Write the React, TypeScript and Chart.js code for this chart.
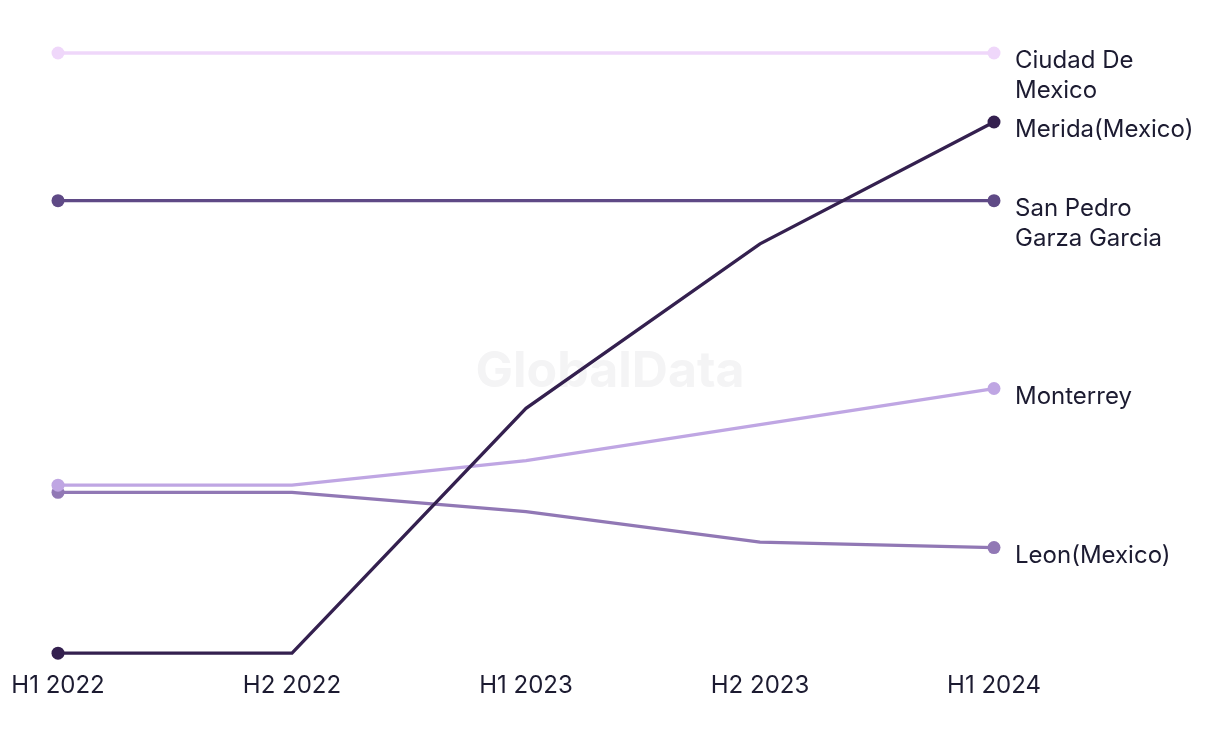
import React, { useEffect, useRef } from "react";
import { Chart, registerables } from "chart.js";

Chart.register(...registerables);

const categories = ["H1 2022", "H2 2022", "H1 2023", "H2 2023", "H1 2024"];
const seriesNames = [
  ["Ciudad De", "Mexico"],
  ["Merida(Mexico)"],
  ["San Pedro", "Garza Garcia"],
  ["Monterrey"],
  ["Leon(Mexico)"],
];
const ciudad = [100, 100, 100, 100, 100];
const merida = [0, 0, 40.8, 68.2, 88.5];
const sanPedro = [75.4, 75.4, 75.4, 75.4, 75.4];
const monterrey = [28.0, 28.0, 32.1, 38.1, 44.1];
const leon = [26.8, 26.8, 23.6, 18.5, 17.6];
const colors = ["#efd7fa", "#34204f", "#5f4a86", "#bfa6e3", "#9178b5"];

const FONT = "Inter, 'Noto Sans', sans-serif";
const TEXT = "#1c1b31";

const endLabels = {
  id: "endLabels",
  afterDatasetsDraw(chart: any) {
    const ctx = chart.ctx;
    ctx.save();
    ctx.font = `24px ${FONT}`;
    ctx.fillStyle = TEXT;
    ctx.textAlign = "left";
    ctx.textBaseline = "middle";
    chart.data.datasets.forEach((ds: any, i: number) => {
      const meta = chart.getDatasetMeta(i);
      const pt = meta.data[meta.data.length - 1];
      const lines = seriesNames[i];
      lines.forEach((l, k) => {
        ctx.fillText(l, pt.x + 21, pt.y + 8 + k * 30);
      });
    });
    ctx.restore();
  },
};

const watermark = {
  id: "watermark",
  beforeDatasetsDraw(chart: any) {
    const ctx = chart.ctx;
    ctx.save();
    ctx.font = `bold 50px ${FONT}`;
    ctx.fillStyle = "#f4f4f5";
    ctx.textAlign = "center";
    ctx.textBaseline = "middle";
    ctx.fillText("GlobalData", 610, 372);
    ctx.restore();
  },
};

export default function App() {
  const ref = useRef<HTMLCanvasElement | null>(null);
  useEffect(() => {
    if (!ref.current) return;
    const data = [ciudad, merida, sanPedro, monterrey, leon];
    const chart = new Chart(ref.current, {
      type: "line",
      data: {
        labels: categories,
        datasets: data.map((d, i) => ({
          label: seriesNames[i].join(" "),
          data: d,
          borderColor: colors[i],
          backgroundColor: colors[i],
          borderWidth: 3.3,
          pointRadius: d.map((_, j) => (j === 0 || j === d.length - 1 ? 6.5 : 0)),
          pointBorderWidth: 0,
          tension: 0,
          fill: false,
          clip: false as any,
        })),
      },
      options: {
        animation: false,
        responsive: false,
        maintainAspectRatio: false,
        layout: { padding: { left: 58, right: 226, top: 53, bottom: 26 } },
        plugins: { legend: { display: false }, tooltip: { enabled: false } },
        scales: {
          x: {
            offset: false,
            grid: { display: false, drawTicks: false, tickLength: 0 },
            border: { display: false },
            afterFit: (scale: any) => {
              scale.paddingLeft = 0;
              scale.paddingRight = 0;
            },
            ticks: {
              color: TEXT,
              font: { family: FONT, size: 24 },
              padding: 18,
              maxRotation: 0,
              autoSkip: false,
            },
          },
          y: { display: false, min: 0, max: 100 },
        },
      },
      plugins: [watermark, endLabels],
    });
    return () => chart.destroy();
  }, []);
  return (
    <div style={{ position: "fixed", left: 0, top: 0, width: 1220, height: 744, background: "#fff" }}>
      <canvas ref={ref} width={1220} height={744} style={{ display: "block" }} />
    </div>
  );
}
